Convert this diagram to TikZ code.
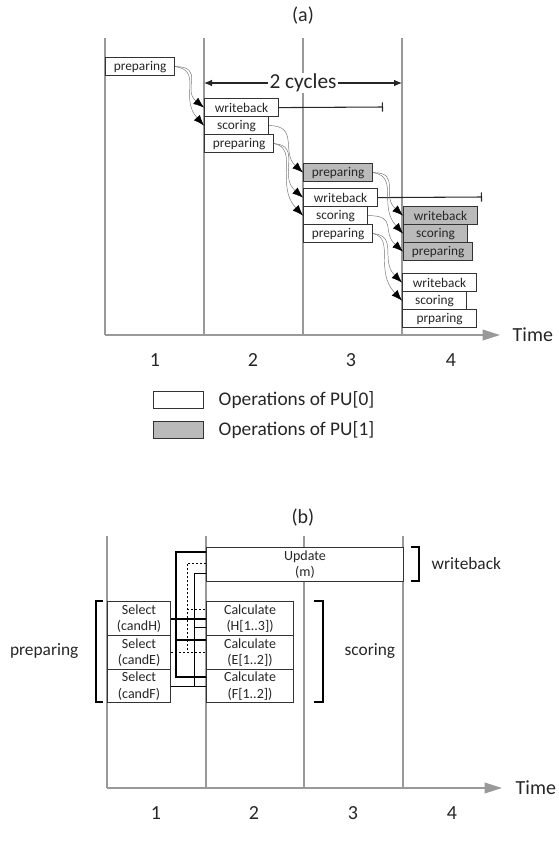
\documentclass[tikz,border=0pt]{standalone}
\usepackage{fontspec}
\setmainfont{Carlito}
\usetikzlibrary{arrows.meta}
\begin{document}
\begin{tikzpicture}[x=0.75pt,y=-0.75pt,
  vline/.style={draw=black!40, line width=1.1pt},
  axis/.style={draw=black!40, line width=1.1pt, -{Triangle[length=13pt,width=8pt]}},
  opbox/.style={draw=black!80, line width=0.9pt, fill=white, anchor=north west, inner sep=0pt, text=black!85, font=\fontsize{10}{12}\selectfont},
  pubox/.style={opbox, fill=black!27},
  sz/.style 2 args={minimum width=#1*0.75pt, minimum height=#2*0.75pt},
  flow/.style={draw=black!55, line width=0.35pt, -{Latex[length=8pt,width=6pt,color=black]}},
  wbline/.style={draw=black!85, line width=0.8pt, -{Bar[width=7pt]}},
  lbl/.style={font=\fontsize{15}{18}\selectfont, text=black!85},
  cell/.style={draw=black!80, line width=0.8pt, fill=white, anchor=north west, inner sep=0pt, align=center, text=black!85, font=\fontsize{10.5}{12.5}\selectfont},
  brk/.style={draw=black, line width=1.6pt},
  thk/.style={draw=black, line width=1.5pt},
  thn/.style={draw=black, line width=0.7pt},
  dtd/.style={draw=black, line width=0.7pt, dash pattern=on 1.5pt off 1.5pt},
  side/.style={font=\fontsize{13}{16}\selectfont, text=black!85}
]
\useasboundingbox (0,0) rectangle (558,843);

% ---------------- (a) ----------------
\node[lbl] (ta) at (303,16) {(a)};
\foreach \x in {105,204,303,402}
  \draw[vline] (\x,38) -- (\x,335);
\coordinate (axa0) at (105,335);
\coordinate (axa1) at (500,335);
\draw[axis] (axa0) -- (axa1);
\node[lbl, anchor=west] (timea) at (508,335) {Time};
\node[lbl] (na1) at (155,360) {1};
\node[lbl] (na2) at (253,360) {2};
\node[lbl] (na3) at (351,360) {3};
\node[lbl] (na4) at (451,360) {4};

% two cycles
\coordinate (cy0) at (204,83);
\coordinate (cy1) at (402,83);
\draw[line width=0.8pt, black!85, {Latex[length=6pt,width=5pt]}-{Latex[length=6pt,width=5pt]}] (cy0) -- (cy1)
  node[midway, fill=white, inner sep=1pt, font=\fontsize{16}{19}\selectfont, text=black!85] (cyc) {2 cycles};

% boxes
\node[opbox, sz={69}{18}] (p1) at (105,57) {preparing};
\node[opbox, sz={74}{18}] (wb2) at (204,98) {writeback};
\node[opbox, sz={64}{18}] (sc2) at (204,116) {scoring};
\node[opbox, sz={69}{18}] (pr2) at (204,134) {preparing};
\node[pubox, sz={69}{18}] (gp3) at (303,163) {preparing};
\node[opbox, sz={74}{18}] (wb3) at (303,188) {writeback};
\node[opbox, sz={64}{18}] (sc3) at (303,206) {scoring};
\node[opbox, sz={69}{18}] (pr3) at (303,224) {preparing};
\node[pubox, sz={74}{18}] (gwb4) at (403,206) {writeback};
\node[pubox, sz={64}{18}] (gsc4) at (403,224) {scoring};
\node[pubox, sz={69}{18}] (gpr4) at (403,242) {preparing};
\node[opbox, sz={74}{18}] (wb4) at (402,273) {writeback};
\node[opbox, sz={64}{18}] (sc4) at (402,291) {scoring};
\node[opbox, sz={74}{18}] (pr4) at (402,309) {prparing};

% writeback extents
\coordinate (wbe2) at (383,107);
\coordinate (wbe3) at (482,197);
\draw[wbline] (wb2.east) -- (wbe2);
\draw[wbline] (wb3.east) -- (wbe3);

% flows
\draw[flow] (p1.east) .. controls +(30,0) and +(-22,-18) .. (wb2.west);
\draw[flow] (p1.east) .. controls +(28,4) and +(-25,-28) .. (sc2.west);
\draw[flow] (sc2.east) .. controls +(30,0) and +(-22,-20) .. (gp3.west);
\draw[flow] (pr2.east) .. controls +(28,2) and +(-25,-22) .. (wb3.west);
\draw[flow] (pr2.east) .. controls +(25,5) and +(-28,-30) .. (sc3.west);
\draw[flow] (gp3.east) .. controls +(28,0) and +(-22,-20) .. (gwb4.west);
\draw[flow] (gp3.east) .. controls +(26,4) and +(-25,-28) .. (gsc4.west);
\draw[flow] (sc3.east) .. controls +(30,0) and +(-22,-20) .. (gpr4.west);
\draw[flow] (pr3.east) .. controls +(25,2) and +(-22,-22) .. (wb4.west);
\draw[flow] (pr3.east) .. controls +(22,5) and +(-28,-30) .. (sc4.west);

% legend
\node[opbox, sz={50}{17}] (lg0) at (153,391) {};
\node[lbl, anchor=west, font=\fontsize{14.5}{17}\selectfont] (lt0) at (214,400) {Operations of PU[0]};
\node[pubox, sz={50}{17}] (lg1) at (153,421) {};
\node[lbl, anchor=west, font=\fontsize{14.5}{17}\selectfont] (lt1) at (214,430) {Operations of PU[1]};

% ---------------- (b) ----------------
\node[lbl] (tb) at (303,518) {(b)};
\foreach \x in {107,206,304,403}
  \draw[vline] (\x,536) -- (\x,788);
\coordinate (axb0) at (107,788);
\coordinate (axb1) at (502,788);
\draw[axis] (axb0) -- (axb1);
\node[lbl, anchor=west] (timeb) at (511,788) {Time};
\node[lbl] (nb1) at (156,813) {1};
\node[lbl] (nb2) at (254,813) {2};
\node[lbl] (nb3) at (353,813) {3};
\node[lbl] (nb4) at (452,813) {4};

\node[cell, sz={197}{34}] (upd) at (206,547) {Update\\(m)};
\node[cell, sz={63}{34}] (selH) at (107,601) {Select\\(candH)};
\node[cell, sz={63}{34}] (selE) at (107,635) {Select\\(candE)};
\node[cell, sz={63}{33}] (selF) at (107,669) {Select\\(candF)};
\node[cell, sz={87}{34}] (calH) at (206,601) {Calculate\\(H[1..3])};
\node[cell, sz={87}{34}] (calE) at (206,635) {Calculate\\(E[1..2])};
\node[cell, sz={87}{33}] (calF) at (206,669) {Calculate\\(F[1..2])};

% brackets
\draw[brk] (411,547) -- (419,547) -- (419,581) -- (411,581);
\node[side, anchor=west] (lwb) at (427,564) {writeback};
\draw[brk] (314,601) -- (323,601) -- (323,702) -- (314,702);
\node[side, anchor=west] (lsc) at (340,651) {scoring};
\draw[brk] (103,601) -- (96,601) -- (96,702) -- (103,702);
\node[side, anchor=east] (lpr) at (83,651) {preparing};

% connectors
\draw[thk] (selH.east) -- (selH.east -| calH.west);
\draw[thk] (upd.west |- 0,552) -- (176,552) -- (176,677) -- (calF.west |- 0,677);
\draw[thk] (176,640) -- (calE.west |- 0,640);
\draw[dtd] (selE.east) -- (selE.east -| calE.west);
\draw[dtd] (upd.west |- 0,563) -- (187,563) -- (187,650);
\draw[dtd] (187,609) -- (calH.west |- 0,609);
\draw[thn] (selF.east) -- (selF.east -| calF.west);
\draw[thn] (upd.west |- 0,573) -- (194,573) -- (194,686);
\draw[thn] (194,627) -- (calH.west |- 0,627);
\end{tikzpicture}
\end{document}
